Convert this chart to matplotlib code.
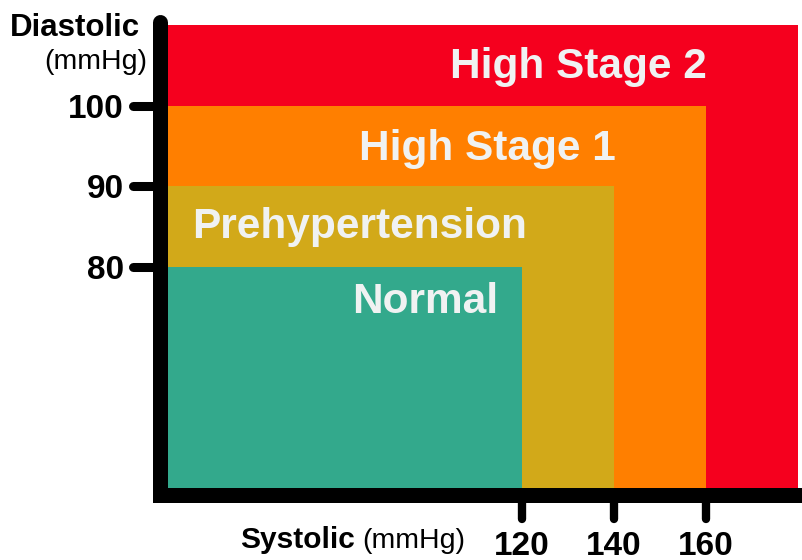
import matplotlib
matplotlib.use("Agg")
import matplotlib.pyplot as plt
from matplotlib.markers import MarkerStyle, TICKLEFT, TICKDOWN

# blood pressure zones (upper limits)
systolic_limits = [120, 140, 160, 180]
diastolic_limits = [80, 90, 100, 110]
zone_names = ["Normal", "Prehypertension", "High Stage 1", "High Stage 2"]
zone_colors = ["#33a98c", "#d2a919", "#ff7f00", "#f5001e"]

x_ticks = [120, 140, 160]
y_ticks = [80, 90, 100]

# label centres (data coords)
label_x = [99.0, 84.7, 112.4, 132.2]
label_y = [75.6, 85.0, 94.6, 104.8]

W, H = 803, 560
fig = plt.figure(figsize=(W / 100, H / 100), dpi=100)
left_px, bottom_px, top_px = 160.5, 494.5, 22
ax = fig.add_axes([left_px / W, (H - bottom_px) / H, (W - left_px) / W, (bottom_px - top_px) / H])

xmin, xmax = 41.4, 181.1
ymin, ymax = 51.7, 110.43
ax.set_xlim(xmin, xmax)
ax.set_ylim(ymin, ymax)

# biggest zone first so smaller ones sit on top
for sx, dy, c in reversed(list(zip(systolic_limits, diastolic_limits, zone_colors))):
    ax.fill_between([xmin, sx], ymin, dy, color=c, linewidth=0, zorder=1)

for name, lx, ly in zip(zone_names, label_x, label_y):
    ax.text(lx, ly, name, ha="center", va="center", color="#f0f2f2",
            fontsize=30.5, fontweight="bold", family="Liberation Sans", zorder=3)

for side in ["top", "right"]:
    ax.spines[side].set_visible(False)
ax.spines["left"].set_linewidth(10.8)
ax.spines["left"].set_capstyle("round")
ax.spines["bottom"].set_linewidth(10.8)
ax.spines["bottom"].set_capstyle("projecting")
for sp in ax.spines.values():
    sp.set_zorder(5)

ax.set_xticks(x_ticks)
ax.set_yticks(y_ticks)
ax.set_xticklabels([str(v) for v in x_ticks], fontsize=24, fontweight="bold", family="Liberation Sans")
ax.set_yticklabels([str(v) for v in y_ticks], fontsize=24, fontweight="bold", family="Liberation Sans")
ax.tick_params(axis="x", length=17, width=6, pad=9)
ax.tick_params(axis="y", length=19.5, width=6.5, pad=7)
for tl in ax.yaxis.get_ticklines():
    tl.set_marker(MarkerStyle(TICKLEFT, capstyle="round"))
for tl in ax.xaxis.get_ticklines():
    tl.set_marker(MarkerStyle(TICKDOWN, capstyle="round"))

# axis titles
fig.text(240 / W, 1 - 548 / H, "Systolic", fontsize=21.5, fontweight="bold",
         family="Liberation Sans", ha="left", va="baseline")
fig.text(362 / W, 1 - 548 / H, "(mmHg)", fontsize=20.5, family="Liberation Sans",
         ha="left", va="baseline")
fig.text(140 / W, 1 - 36 / H, "Diastolic", fontsize=22.5, fontweight="bold",
         family="Liberation Sans", ha="right", va="baseline")
fig.text(147 / W, 1 - 69 / H, "(mmHg)", fontsize=20.5, family="Liberation Sans",
         ha="right", va="baseline")

fig.savefig("out.png", dpi=100)
